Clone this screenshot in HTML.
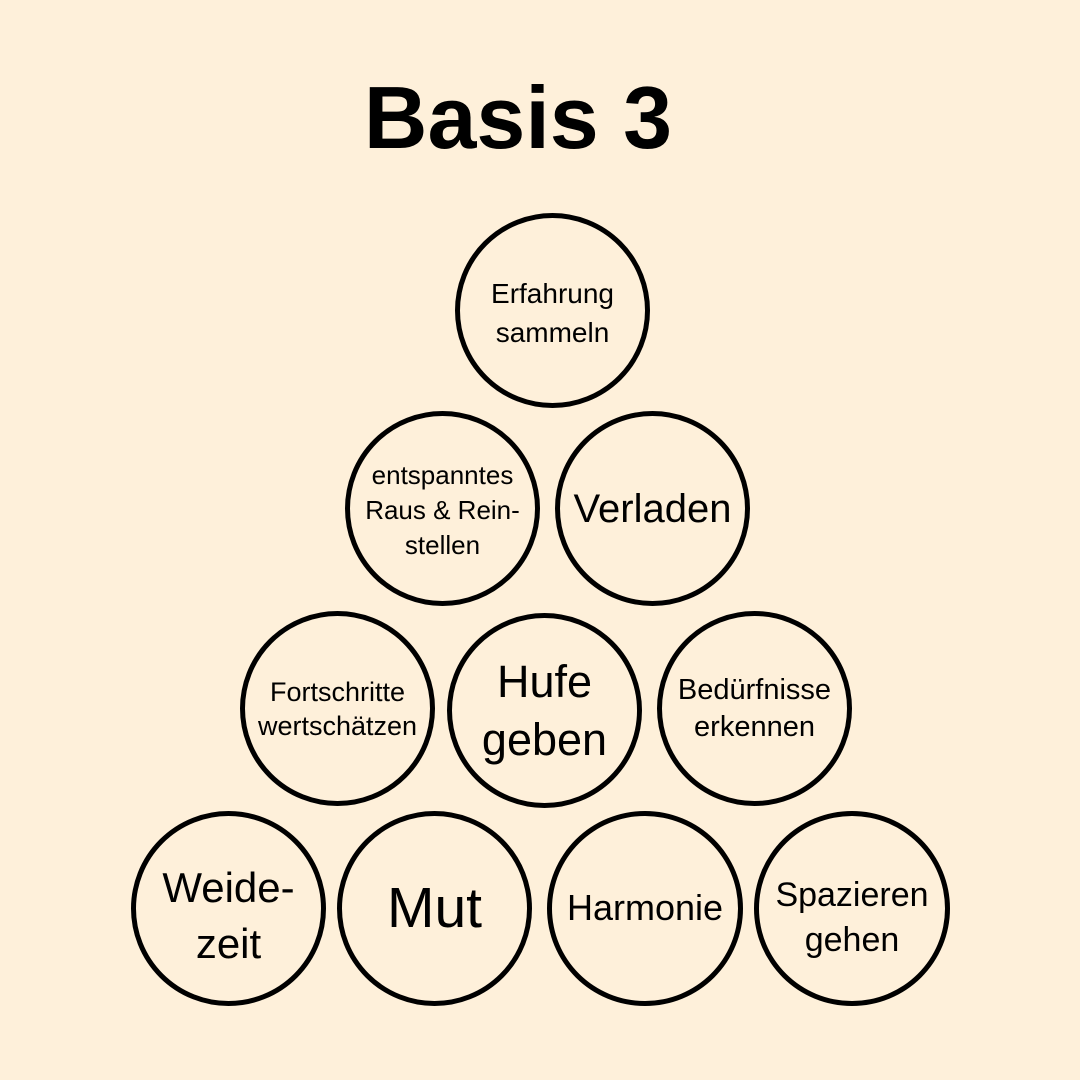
<!DOCTYPE html>
<html><head><meta charset="utf-8"><style>
html,body{margin:0;padding:0}
body{width:1080px;height:1080px;background:#FEF0DA;position:relative;overflow:hidden;font-family:"Liberation Sans",sans-serif;color:#000}
.t{position:absolute;left:0;width:1036px;top:66px;text-align:center;font-weight:bold;font-size:88px;line-height:104px}
.c{position:absolute;border:5px solid #000;border-radius:50%;box-sizing:border-box;display:flex;align-items:center;justify-content:center;text-align:center;line-height:1.3;white-space:nowrap}
</style></head><body>
<div class="t">Basis 3</div>
<div class="c" style="left:455px;top:213px;width:195px;height:195px;font-size:28px;line-height:39px;padding-top:4px">Erfahrung<br>sammeln</div>
<div class="c" style="left:345px;top:411px;width:195px;height:195px;font-size:26px;line-height:35px;padding-top:4px">entspanntes<br>Raus &amp; Rein-<br>stellen</div>
<div class="c" style="left:555px;top:411px;width:195px;height:195px;font-size:40px">Verladen</div>
<div class="c" style="left:240px;top:611px;width:195px;height:195px;font-size:27px;line-height:34px">Fortschritte<br>wertschätzen</div>
<div class="c" style="left:447px;top:613px;width:195px;height:195px;font-size:45px;line-height:58px">Hufe<br>geben</div>
<div class="c" style="left:657px;top:611px;width:195px;height:195px;font-size:29px;line-height:37px">Bedürfnisse<br>erkennen</div>
<div class="c" style="left:131px;top:811px;width:195px;height:195px;font-size:42px;line-height:56px;padding-top:14px">Weide-<br>zeit</div>
<div class="c" style="left:337px;top:811px;width:195px;height:195px;font-size:57px">Mut</div>
<div class="c" style="left:547px;top:811px;width:196px;height:195px;font-size:36px">Harmonie</div>
<div class="c" style="left:754px;top:811px;width:196px;height:195px;font-size:34px;line-height:45px;padding-top:18px">Spazieren<br>gehen</div>
</body></html>
